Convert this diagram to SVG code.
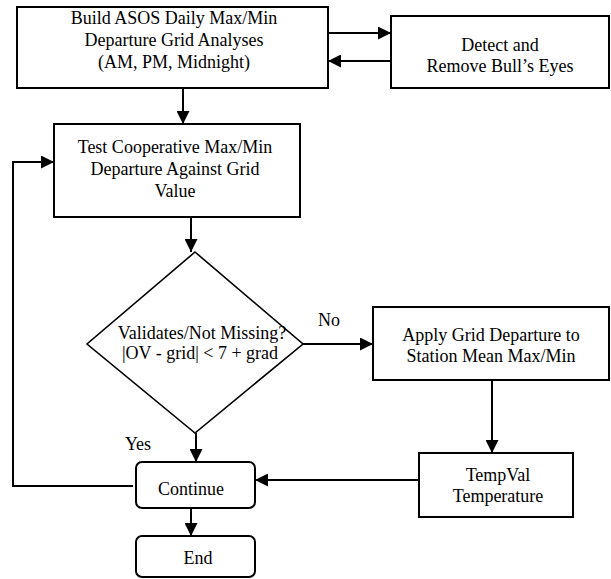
<svg xmlns="http://www.w3.org/2000/svg" width="611" height="579" viewBox="0 0 611 579">
<style>
.box{fill:#fff;stroke:#000;stroke-width:2}
.dia{fill:#fff;stroke:#000;stroke-width:1.6}
.t{font-family:"Liberation Serif","Times New Roman",serif;font-size:18px;fill:#000;text-anchor:middle}
.c{fill:none;stroke:#000;stroke-width:2}
</style>
<defs>
<marker id="ah" markerUnits="userSpaceOnUse" markerWidth="14" markerHeight="13" refX="13" refY="6.5" orient="auto">
<path d="M0,0 L13,6.5 L0,13 z" fill="#000"/>
</marker>
</defs>
<g id="connectors">
<line class="c" x1="328" y1="33" x2="391" y2="33" marker-end="url(#ah)"/>
<line class="c" x1="391" y1="61" x2="328" y2="61" marker-end="url(#ah)"/>
<line class="c" x1="183" y1="88" x2="183" y2="124" marker-end="url(#ah)"/>
<line class="c" x1="191" y1="217" x2="191" y2="252" marker-end="url(#ah)"/>
<line class="c" x1="303" y1="344" x2="373" y2="344" marker-end="url(#ah)"/>
<line class="c" x1="492" y1="380" x2="492" y2="453" marker-end="url(#ah)"/>
<line class="c" x1="419" y1="480" x2="255" y2="480" marker-end="url(#ah)"/>
<line class="c" x1="196" y1="433" x2="196" y2="462" marker-end="url(#ah)"/>
<line class="c" x1="191" y1="508" x2="191" y2="536" marker-end="url(#ah)"/>
<polyline class="c" points="133,486 13,486 13,162 54,162" marker-end="url(#ah)"/>
<text class="t" x="329" y="326">No</text>
<text class="t" x="138" y="450">Yes</text>
</g>
<g id="build">
<rect class="box" x="17" y="7" width="311" height="81"/>
<text class="t" x="174" y="24">Build ASOS Daily Max/Min</text>
<text class="t" x="174" y="46">Departure Grid Analyses</text>
<text class="t" x="174" y="68">(AM, PM, Midnight)</text>
</g>
<g id="detect">
<rect class="box" x="391" y="16" width="218" height="72"/>
<text class="t" x="500" y="51">Detect and</text>
<text class="t" x="500" y="72">Remove Bull’s Eyes</text>
</g>
<g id="test">
<rect class="box" x="54" y="124" width="246" height="93"/>
<text class="t" x="175" y="153">Test Cooperative Max/Min</text>
<text class="t" x="175" y="175">Departure Against Grid</text>
<text class="t" x="175" y="197">Value</text>
</g>
<g id="decision">
<polygon class="dia" points="195,252 303,344 195,433 87,344"/>
<text class="t" x="202" y="339">Validates/Not Missing?</text>
<text class="t" x="200" y="359">|OV - grid| &lt; 7 + grad</text>
</g>
<g id="apply">
<rect class="box" x="373" y="307" width="236" height="73"/>
<text class="t" x="491" y="341">Apply Grid Departure to</text>
<text class="t" x="491" y="362">Station Mean Max/Min</text>
</g>
<g id="tempval">
<rect class="box" x="419" y="453" width="154" height="64"/>
<text class="t" x="498" y="481">TempVal</text>
<text class="t" x="498" y="502">Temperature</text>
</g>
<g id="continue">
<rect class="box" x="136" y="462" width="119" height="46" rx="6"/>
<text class="t" x="191" y="495">Continue</text>
</g>
<g id="end">
<rect class="box" x="136" y="536" width="119" height="41" rx="6"/>
<text class="t" x="198" y="564">End</text>
</g>
</svg>
